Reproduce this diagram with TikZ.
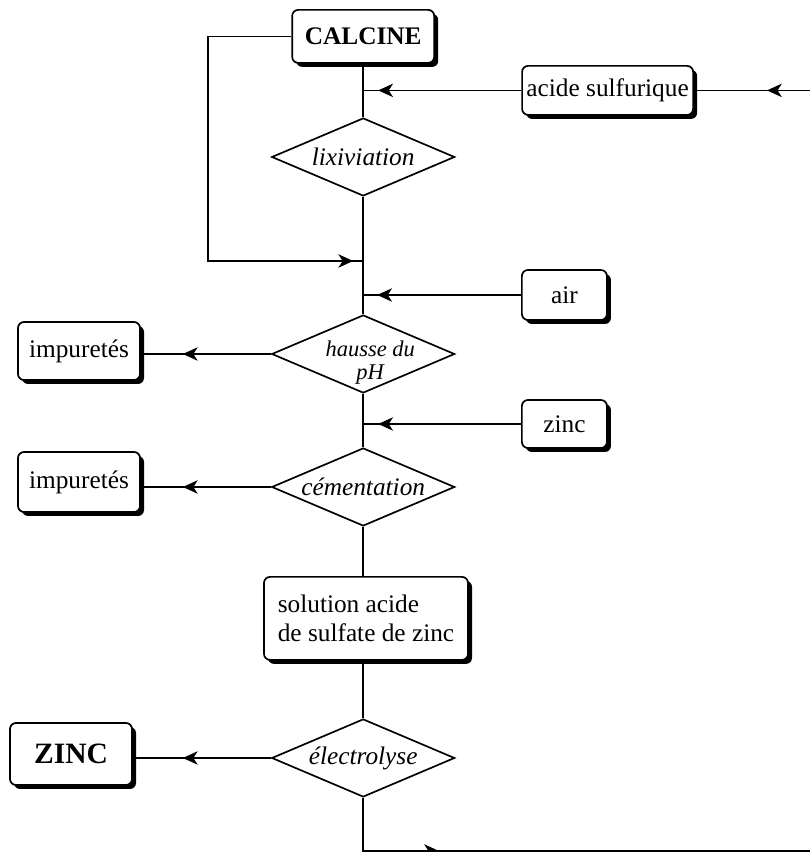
\documentclass[tikz,border=0pt]{standalone}
\usepackage{fontspec}
\setmainfont{Liberation Serif}
\usetikzlibrary{arrows.meta, shapes.geometric, shadows, decorations.markings}

\newcommand{\dedans}[1]{\makebox[0pt]{#1}}

\begin{document}
\begin{tikzpicture}[
    font=\fontsize{18}{21}\selectfont,
    line width=1.2pt,
    boite/.style={draw, rounded corners=0.15cm, fill=white, inner sep=0pt,
      drop shadow={shadow xshift=0.1cm, shadow yshift=-0.1cm, fill=black, opacity=1}},
    losange/.style={draw, diamond, inner sep=0pt, minimum width=4.575cm,
      minimum height=1.95cm, font=\fontsize{18}{21}\selectfont\itshape},
    fleche/.style={postaction={decorate}, decoration={markings,
      mark=at position #1 with {\arrow{Stealth[length=10.5pt, width=9.5pt, inset=3pt]}}}}
  ]
    \useasboundingbox (0, 0) rectangle (20.25, 21.3);

    \node[boite, minimum width=3.55cm, minimum height=1.325cm, font=\fontsize{18}{21}\selectfont\bfseries] (C) at (9.08, 20.39){CALCINE};
    \node[boite, minimum width=4.275cm, minimum height=1.225cm] (AS) at (15.19, 19.04){acide sulfurique};
    \node[losange] (L) at (9.08, 17.375){\dedans{lixiviation}};
    \coordinate (coin) at (5.2, 14.775);
    \node[boite, minimum width=2.125cm, minimum height=1.25cm] (A) at (14.11, 13.925){air};
    \node[losange] (H) at (9.08, 12.45){\dedans{\hspace{0.35cm}\raisebox{-0.39cm}[0pt][0pt]{\fontsize{16}{16.5}\selectfont\begin{tabular}{@{}c@{}}hausse du\\pH\end{tabular}}}};
    \node[boite, minimum width=3.05cm, minimum height=1.45cm] (I1) at (1.975, 12.525){impuretés};
    \node[boite, minimum width=2.125cm, minimum height=1.2cm] (Z) at (14.11, 10.7){zinc};
    \node[losange] (Ce) at (9.08, 9.125){\dedans{cémentation}};
    \node[boite, minimum width=3.05cm, minimum height=1.5cm] (I2) at (1.975, 9.25){impuretés};
    \node[boite, minimum width=5.1cm, minimum height=2.075cm, align=left] (S) at (9.15, 5.84){solution acide\\de sulfate de zinc};
    \node[losange] (E) at (9.08, 2.35){\dedans{électrolyse}};
    \node[boite, minimum width=3.05cm, minimum height=1.55cm, font=\fontsize{21}{24}\selectfont\bfseries] (ZN) at (1.775, 2.45){ZINC};
    \coordinate (R1) at (20.25, 19.04);
    \coordinate (R2) at (20.25, 0.025);

    % ligne principale
    \draw (C.south)--(L.north);
    \draw (L.south)--(H.north);
    \draw (H.south)--(Ce.north);
    \draw (Ce.south)--(Ce.south |- S.north);
    \draw (S.south -| E.north)--(E.north);

    % entrees
    \draw[fleche=1.075cm] (R1)--(AS.east);
    \draw[fleche=-0.375cm] (AS.west)--(AS.west -| C.south);
    \draw[fleche=-0.25cm] (C.west) -| (coin)--(coin -| L.south);
    \draw[fleche=-0.35cm] (A.west)--(A.west -| H.north);
    \draw[fleche=-0.375cm] (Z.west)--(Z.west -| Ce.north);

    % sorties
    \draw[fleche=-1.05cm] (H.west)--(H.west -| I1.east);
    \draw[fleche=-1.05cm] (Ce.west)--(Ce.west -| I2.east);
    \draw[fleche=-1.25cm] (E.west)--(E.west -| ZN.east);
    \draw[fleche=-9.275cm] (E.south) |- (R2);
  \end{tikzpicture}
\end{document}
